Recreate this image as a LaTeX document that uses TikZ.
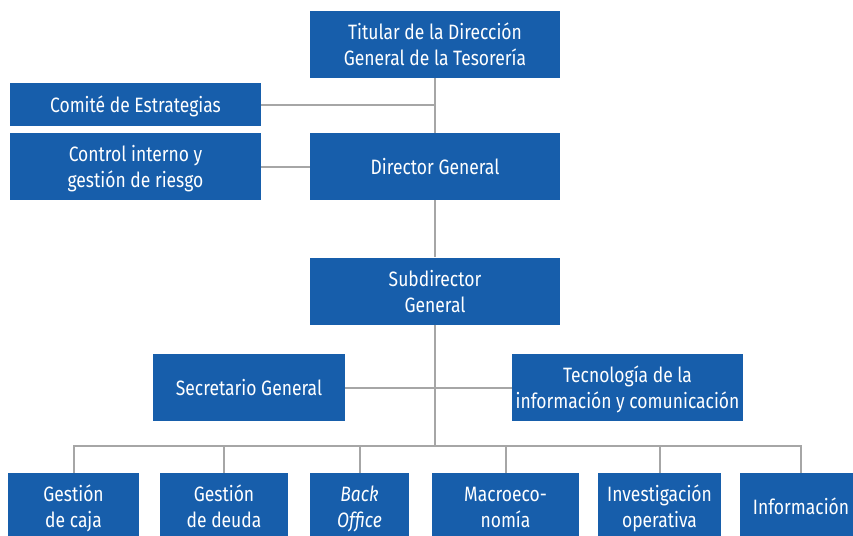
\documentclass[tikz,border=0pt]{standalone}
\usepackage{fontspec}
\setmainfont{Fira Sans}[FakeStretch=0.84]
\definecolor{boxblue}{RGB}{23,94,171}
\definecolor{linegray}{RGB}{166,166,166}
\newcommand\tst{\rule[-5pt]{0pt}{26pt}}
\begin{document}
\begin{tikzpicture}[x=1pt,y=-1pt,
  box/.style={fill=boxblue, text=white, align=center, inner sep=0pt,
    minimum height=67pt, font=\fontsize{20.8}{26}\selectfont},
  conn/.style={draw=linegray, line width=2pt}]
\fill[white] (0,0) rectangle (853,535);
\useasboundingbox (0,0) rectangle (853,535);
% top levels
\node[box, minimum width=250pt] (tit) at (435,44.5) {Titular de la Dirección\tst\\General de la Tesorería\tst};
\node[box, minimum width=251pt, minimum height=43pt] (com) at (135.5,104.5) {Comité de Estrategias\tst};
\node[box, minimum width=251pt] (ctl) at (135.5,166.5) {Control interno y\tst\\gestión de riesgo\tst};
\node[box, minimum width=250pt] (dir) at (435,166.5) {Director General\tst};
\node[box, minimum width=250pt] (sub) at (435,291) {Subdirector\tst\\General\tst};
\node[box, minimum width=192pt] (sec) at (249,387.5) {Secretario General\tst};
\node[box, minimum width=231pt] (tec) at (627.5,387.5) {Tecnología de la\tst\\información y comunicación\tst};
% bottom row
\node[box, minimum width=131pt] (b1) at (73.5,506.5) {Gestión\tst\\de caja\tst};
\node[box, minimum width=128pt] (b2) at (224,506.5) {Gestión\tst\\de deuda\tst};
\node[box, minimum width=99pt] (b3) at (359.5,506.5) {\itshape Back\tst\\\itshape Office\tst};
\node[box, minimum width=147pt] (b4) at (505.5,506.5) {Macroeco-\tst\\nomía\tst};
\node[box, minimum width=123pt] (b5) at (659.5,506.5) {Investigación\tst\\operativa\tst};
\node[box, minimum width=122pt] (b6) at (801,506.5) {Información\tst};
\coordinate (bus) at (435,446);
% connectors
\draw[conn] (tit.south) -- (dir.north);
\draw[conn] (com.east) -- (com.east -| tit.south);
\draw[conn] (ctl.east) -- (dir.west);
\draw[conn] (dir.south) -- (sub.north);
\draw[conn] (sub.south) -- (bus);
\draw[conn] (sec.east) -- (tec.west);
\draw[conn] (b1.north) -- (b1.north |- bus) -- (b6.north |- bus) -- (b6.north);
\foreach \b in {b2,b3,b4,b5}{\draw[conn] (\b.north) -- (\b.north |- bus);}
\end{tikzpicture}
\end{document}
